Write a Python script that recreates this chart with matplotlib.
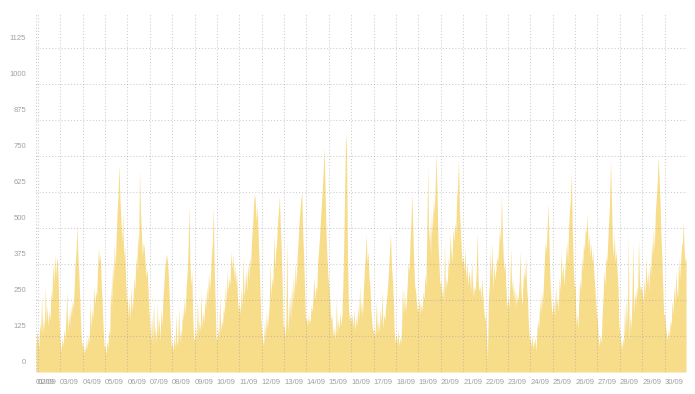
#!/usr/bin/env python3
import matplotlib
matplotlib.use("Agg")
import matplotlib.pyplot as plt
from matplotlib.transforms import ScaledTranslation

# hourly values, series starts on 01/09 at 22:00
start_hour = 22
tail_0109 = [90, 140]

# 02/09 .. 30/09, 24 hourly values per day
sept_days = [
    [120, 80, 170, 140, 260, 130, 190, 150, 300, 170, 230, 160, 210, 180, 280, 250, 380, 300, 410, 330, 380, 400, 290, 160],
    [100, 70, 120, 90, 150, 110, 180, 280, 140, 200, 160, 230, 190, 250, 220, 300, 380, 420, 510, 400, 330, 250, 150, 90],
    [110, 60, 90, 70, 120, 80, 130, 100, 250, 150, 220, 180, 300, 230, 280, 260, 360, 430, 380, 410, 300, 240, 150, 90],
    [90, 60, 110, 80, 150, 120, 300, 220, 380, 310, 450, 360, 470, 560, 620, 720, 600, 530, 450, 550, 400, 440, 330, 260],
    [240, 190, 260, 180, 300, 210, 250, 330, 280, 400, 350, 480, 420, 700, 560, 480, 400, 450, 430, 380, 330, 360, 300, 220],
    [160, 110, 200, 90, 250, 120, 160, 100, 240, 130, 190, 110, 220, 160, 250, 300, 360, 390, 410, 380, 330, 240, 150, 90],
    [100, 70, 130, 80, 200, 90, 110, 230, 100, 150, 120, 220, 180, 260, 200, 300, 340, 420, 585, 380, 300, 350, 200, 110],
    [120, 160, 110, 260, 130, 180, 140, 280, 150, 210, 170, 250, 220, 300, 240, 350, 280, 330, 400, 450, 574, 380, 250, 120],
    [110, 150, 120, 270, 140, 180, 160, 230, 200, 300, 240, 350, 280, 330, 300, 420, 360, 410, 330, 380, 300, 350, 260, 210],
    [240, 200, 300, 220, 400, 260, 300, 350, 280, 380, 320, 400, 360, 450, 500, 560, 620, 600, 520, 580, 490, 400, 300, 190],
    [140, 110, 90, 180, 120, 210, 150, 190, 230, 380, 260, 330, 300, 480, 360, 420, 450, 520, 560, 610, 500, 430, 300, 160],
    [160, 120, 180, 470, 140, 200, 260, 180, 300, 220, 340, 260, 380, 300, 400, 450, 520, 560, 600, 625, 480, 400, 280, 180],
    [190, 160, 200, 170, 180, 230, 210, 260, 330, 250, 300, 280, 380, 420, 470, 530, 580, 640, 700, 780, 620, 480, 400, 330],
    [300, 250, 180, 200, 150, 120, 160, 110, 250, 130, 180, 150, 210, 160, 200, 300, 450, 650, 830, 770, 400, 220, 180, 200],
    [170, 200, 150, 220, 140, 190, 160, 230, 180, 300, 200, 250, 190, 280, 350, 400, 480, 380, 420, 330, 300, 220, 180, 140],
    [150, 120, 160, 250, 130, 180, 140, 220, 170, 280, 150, 200, 180, 230, 260, 300, 350, 420, 480, 380, 330, 260, 150, 100],
    [130, 100, 150, 90, 120, 100, 160, 300, 200, 280, 210, 240, 300, 380, 350, 450, 520, 620, 500, 380, 300, 280, 240, 210],
    [220, 260, 200, 240, 210, 280, 250, 340, 300, 480, 720, 450, 520, 400, 560, 480, 600, 550, 650, 760, 620, 450, 380, 300],
    [320, 260, 300, 240, 450, 280, 330, 300, 400, 360, 480, 420, 380, 500, 450, 520, 480, 600, 650, 736, 560, 500, 420, 380],
    [400, 350, 430, 320, 380, 300, 350, 330, 280, 390, 310, 260, 300, 280, 350, 490, 320, 280, 300, 250, 330, 270, 220, 180],
    [200, 130, 40, 250, 300, 420, 330, 450, 280, 380, 320, 350, 400, 380, 430, 500, 450, 614, 480, 400, 350, 380, 280, 220],
    [260, 220, 300, 435, 280, 330, 250, 300, 220, 280, 240, 260, 310, 420, 280, 230, 300, 350, 320, 400, 300, 250, 160, 120],
    [110, 90, 130, 80, 100, 120, 70, 140, 180, 150, 250, 200, 280, 230, 300, 380, 450, 420, 500, 585, 450, 320, 260, 200],
    [220, 250, 190, 300, 230, 260, 210, 330, 280, 420, 320, 380, 300, 350, 400, 450, 380, 500, 560, 600, 690, 500, 380, 300],
    [300, 160, 200, 150, 250, 320, 280, 400, 350, 450, 420, 500, 480, 550, 430, 480, 400, 450, 380, 420, 350, 300, 250, 200],
    [180, 110, 90, 130, 100, 200, 260, 350, 300, 400, 380, 450, 520, 585, 736, 600, 450, 400, 480, 380, 420, 350, 300, 160],
    [140, 100, 80, 120, 90, 230, 130, 270, 160, 480, 110, 200, 150, 260, 450, 200, 280, 230, 300, 260, 460, 320, 280, 300],
    [280, 240, 330, 260, 400, 300, 350, 280, 380, 330, 450, 400, 500, 420, 550, 600, 650, 747, 680, 600, 480, 400, 300, 200],
    [200, 160, 130, 110, 150, 120, 180, 160, 250, 200, 300, 240, 350, 280, 260, 400, 320, 380, 430, 450, 516, 420, 380, 400],
]

day_labels = ["%02d/09" % d for d in range(1, 31)]
y_ticks = [0, 125, 250, 375, 500, 625, 750, 875, 1000, 1125]

traffic = tail_0109 + [v for day in sept_days for v in day]
hours = list(range(start_hour, start_hour + len(traffic)))

fig = plt.figure(figsize=(6.95, 3.94), dpi=100)
ax = fig.add_axes([36 / 695, 22 / 394, 651 / 695, 358 / 394])

ax.fill_between(hours, traffic, 0, color="#f7dc8a", linewidth=0, zorder=1)

ax.set_xlim(start_hour, 30 * 24)
ax.set_ylim(0, 1243)

# first label gets pushed to the left edge, like the original
ax.set_xticks([start_hour] + [24 * d for d in range(1, 30)])
ax.set_xticklabels(day_labels)
ax.set_yticks(y_ticks)
ax.set_yticklabels([str(v) for v in y_ticks])

for s in ax.spines.values():
    s.set_visible(False)

ax.set_axisbelow(False)
ax.grid(True, color="#999999", alpha=0.5, linestyle=(0, (1, 2)), linewidth=0.75)

ax.tick_params(length=0, labelsize=5.5, labelcolor="#a0a0a0")
ax.tick_params(axis="x", pad=5)
ax.tick_params(axis="y", pad=7)
for lab in ax.get_xticklabels():
    lab.set_fontfamily("Liberation Sans")
    lab.set_ha("left")
for lab in ax.get_yticklabels():
    lab.set_fontfamily("Liberation Sans")
    lab.set_transform(lab.get_transform() + ScaledTranslation(0, 0.1, fig.dpi_scale_trans))

fig.savefig("out.png", dpi=100)
